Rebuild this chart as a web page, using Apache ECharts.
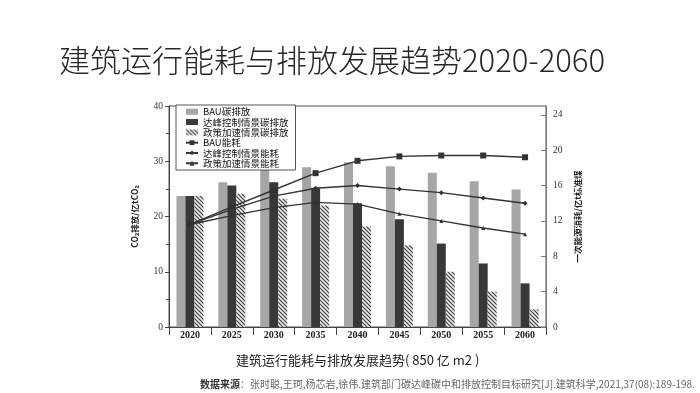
<!DOCTYPE html>
<html>
<head>
<meta charset="utf-8">
<script src="https://cdn.jsdelivr.net/npm/echarts@6/dist/echarts.min.js"></script>
<style>
html,body{margin:0;padding:0;background:#fff;}
#chart{width:700px;height:393px;}
</style>
</head>
<body>
<div id="chart"></div>
<script>
// ---- data ----
const years = ['2020','2025','2030','2035','2040','2045','2050','2055','2060'];
const bauEmission    = [23.7, 26.2, 28.6, 28.9, 29.8, 29.1, 27.9, 26.4, 24.9];
const peakEmission   = [23.7, 25.6, 26.2, 25.2, 22.4, 19.5, 15.1, 11.5, 7.9];
const policyEmission = [23.7, 24.1, 23.2, 22.0, 18.2, 14.8, 10.0, 6.4, 3.2];
const bauEnergy      = [11.6, 13.6, 15.5, 17.4, 18.8, 19.3, 19.4, 19.4, 19.2];
const peakEnergy     = [11.6, 13.3, 14.8, 15.7, 16.0, 15.6, 15.2, 14.6, 14.0];
const policyEnergy   = [11.6, 12.6, 13.5, 14.1, 13.9, 12.8, 12.0, 11.2, 10.5];
const seriesNames = ['BAU碳排放','达峰控制情景碳排放','政策加速情景碳排放','BAU能耗','达峰控制情景能耗','政策加速情景能耗'];
const leftTicks = [0, 10, 20, 30, 40];
const rightTicks = [0, 4, 8, 12, 16, 20, 24];

// hatch pattern
const pc = document.createElement('canvas');
pc.width = 4; pc.height = 4;
const g = pc.getContext('2d');
g.fillStyle = '#ececec'; g.fillRect(0,0,4,4);
g.strokeStyle = '#3a3a3a'; g.lineWidth = 1.1;
g.beginPath();
g.moveTo(-1,-1); g.lineTo(5,5);
g.moveTo(-1,3); g.lineTo(1,5);
g.moveTo(3,-1); g.lineTo(5,1);
g.stroke();

const serif = '"Liberation Serif","DejaVu Serif",serif';
const cjk = '"Noto Sans CJK SC","Noto Sans",sans-serif';

const chart = echarts.init(document.getElementById('chart'), null, {renderer:'canvas'});
chart.setOption({
  animation: false,
  backgroundColor: '#fff',
  title: [{
    text: '建筑运行能耗与排放发展趋势2020-2060',
    left: 54, top: 40,
    textStyle: {fontFamily: cjk, fontSize: 31, fontWeight: 300, color: '#262626'}
  }],
  graphic: [
    {type:'text', left: 236, top: 354,
     style:{text:'建筑运行能耗与排放发展趋势( 850 亿 m2 )', font:'13px "Noto Sans CJK SC"', fill:'#222'}},
    {type:'text', left: 200, top: 379,
     style:{text:'{b|数据来源}{n|：张时聪,王珂,杨芯岩,徐伟.建筑部门碳达峰碳中和排放控制目标研究[J].建筑科学,2021,37(08):189-198.}',
       rich:{b:{fontFamily:'Noto Sans CJK SC', fontSize:10, fontWeight:'bold', fill:'#333'},
             n:{fontFamily:'Noto Sans CJK SC', fontSize:10, fill:'#666'}}}}
  ],
  legend: {
    orient: 'vertical', left: 176, top: 105,
    padding: [2, 7, 2, 9],
    itemWidth: 12, itemHeight: 6, itemGap: 0.8,
    backgroundColor: '#fff',
    borderColor: '#555', borderWidth: 1,
    textStyle: {fontFamily: cjk, fontSize: 9.5, color: '#111'},
    data: [
      {name: seriesNames[0], icon: 'rect'},
      {name: seriesNames[1], icon: 'rect'},
      {name: seriesNames[2], icon: 'rect'},
      {name: seriesNames[3]},
      {name: seriesNames[4]},
      {name: seriesNames[5]}
    ]
  },
  grid: {left: 169, right: 154, top: 106, bottom: 66, show: true, borderColor: '#555', borderWidth: 1},
  xAxis: {
    type: 'category', data: years,
    axisLine: {lineStyle: {color: '#444'}},
    axisTick: {show: true, length: 8, lineStyle: {color: '#444'}},
    axisLabel: {margin: 3, fontFamily: serif, fontSize: 10, fontWeight: 'bold', color: '#222'}
  },
  yAxis: [{
    type: 'value', min: 0, max: 40, interval: 10,
    name: 'CO₂排放/亿tCO₂', nameLocation: 'middle', nameGap: 30, nameRotate: 90,
    nameTextStyle: {fontFamily: cjk, fontSize: 8.5, fontWeight: 'bold', color: '#222'},
    axisLine: {show: true, lineStyle: {color: '#444'}},
    axisTick: {show: true, length: 4, lineStyle: {color: '#444'}, customValues: leftTicks},
    minorTick: {show: true, splitNumber: 2, length: 3, lineStyle: {color: '#444'}},
    axisLabel: {margin: 6, fontFamily: serif, fontSize: 9.5, color: '#333', customValues: leftTicks},
    splitLine: {show: false}
  }, {
    type: 'value', min: 0, max: 25, interval: 4, position: 'right',
    name: '一次能源消耗/亿t标准煤', nameLocation: 'middle', nameGap: 25, nameRotate: 90,
    nameTextStyle: {fontFamily: cjk, fontSize: 8.5, fontWeight: 'bold', color: '#222'},
    axisLine: {show: true, lineStyle: {color: '#777'}},
    axisTick: {show: true, inside: true, length: 5, lineStyle: {color: '#777'}, customValues: rightTicks},
    axisLabel: {margin: 7, fontFamily: serif, fontSize: 9.5, color: '#333', customValues: rightTicks},
    splitLine: {show: false}
  }],
  series: [
    {name: seriesNames[0], type: 'bar', data: bauEmission, barWidth: 9, barGap: '0%',
     itemStyle: {color: '#a6a6a6'}},
    {name: seriesNames[1], type: 'bar', data: peakEmission, barWidth: 9, barGap: '0%',
     itemStyle: {color: '#383838'}},
    {name: seriesNames[2], type: 'bar', data: policyEmission, barWidth: 9, barGap: '0%',
     itemStyle: {color: {image: pc, repeat: 'repeat'}}},
    {name: seriesNames[3], type: 'line', yAxisIndex: 1, data: bauEnergy, z: 5,
     symbol: 'rect', symbolSize: 6, lineStyle: {color: '#333', width: 1.4}, itemStyle: {color: '#333'}},
    {name: seriesNames[4], type: 'line', yAxisIndex: 1, data: peakEnergy, z: 5,
     symbol: 'diamond', symbolSize: 5, lineStyle: {color: '#333', width: 1.4}, itemStyle: {color: '#333'}},
    {name: seriesNames[5], type: 'line', yAxisIndex: 1, data: policyEnergy, z: 5,
     symbol: 'triangle', symbolSize: 4, lineStyle: {color: '#333', width: 1.4}, itemStyle: {color: '#333'}}
  ]
});
</script>
</body>
</html>
